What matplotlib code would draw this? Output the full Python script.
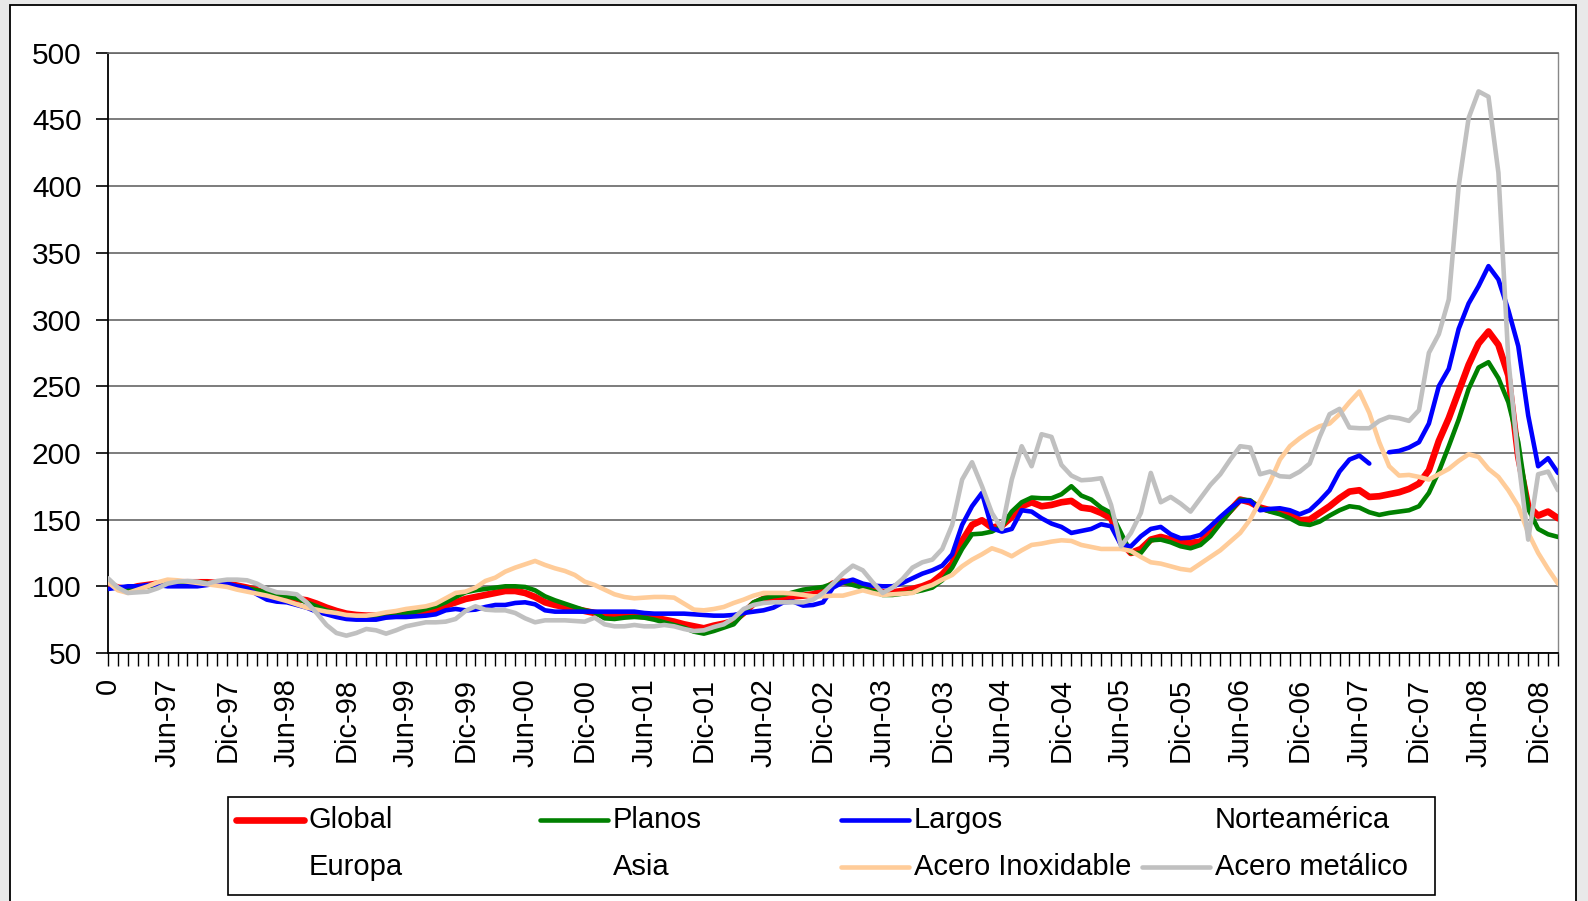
import numpy as np
import matplotlib
matplotlib.use('Agg')
import matplotlib.pyplot as plt
from matplotlib.patches import Rectangle
from matplotlib.lines import Line2D

plt.rcParams['font.family'] = ['Liberation Sans', 'DejaVu Sans']

# ---------------- data (monthly, Dec-96 .. Feb-09) ----------------
global_idx = [
    102, 99, 98, 100, 101, 102, 102.5, 103, 103, 103,
    103, 102.5, 102, 100.5, 99, 97, 94.5, 93, 91.5, 90.5,
    89.5, 87, 84, 81.5, 79.5, 78.5, 78, 78, 78, 78.5,
    79.5, 80, 81, 82.5, 85.5, 88, 90.5, 92, 93.5, 95,
    96.5, 96.5, 95, 92, 88, 86, 84.5, 83, 81.5, 80,
    79, 78, 78, 78.25, 77.5, 76.5, 75, 73.5, 71.5, 70,
    68.5, 70.5, 72, 74, 80, 87, 90.5, 91.5, 92, 92.5,
    93, 94, 97, 102, 103.5, 102.5, 100.5, 98.5, 95.5, 95.5,
    96.5, 98, 100, 103, 109, 117, 134, 146, 149.5, 144,
    145.5, 152, 160, 163, 160, 161, 163, 164, 159, 158,
    155, 151, 133, 125, 128, 135, 137, 135, 133, 132.5,
    133.5, 140, 149, 157, 165, 163, 159, 157, 156, 154,
    149.5, 150, 155, 160, 166, 171, 172, 167, 167.5, 169,
    170.5, 173, 177, 187, 209, 226, 246, 266, 282, 291,
    281, 258, 197, 160, 153, 156, 151]

planos = [
    103, 98, 97, 99, 100, 101, 102, 102.5, 103, 103,
    102.5, 102, 101, 100, 98.5, 97, 95.5, 94, 92.5, 91,
    88, 85, 82, 80, 78, 77, 76, 76, 77, 78,
    79.5, 81, 83, 85, 88, 92, 95.5, 97, 98, 99,
    100, 100, 99.5, 97, 92.5, 89.5, 87, 84.5, 82, 80.5,
    76, 75.5, 76.5, 77, 76.5, 75, 73, 71, 69, 66,
    64.5, 66.5, 69, 71.5, 80, 88, 91, 92.5, 93.5, 95.5,
    97.5, 98.5, 99.5, 102, 103, 101, 99, 96.5, 93.5, 93.5,
    94.5, 95.5, 97, 99, 104.5, 114, 128, 139, 139.5, 141,
    145, 156, 163, 166.5, 166, 166, 169, 175, 168, 165,
    159, 155, 140, 125, 125, 134.5, 135, 133, 130, 128.5,
    131, 137.5, 147, 156, 165, 164.5, 158.5, 156, 154, 151,
    147, 146, 148.5, 153, 157, 160, 159, 155.5, 153.5, 155,
    156, 157, 160, 170, 186, 205, 225, 248, 264, 268,
    256, 238, 208, 158, 143, 139, 137]

largos = [
    98, 99, 100, 100, 101, 101, 100, 100, 100, 100,
    101, 102, 102, 100, 98.5, 94, 90, 88.5, 88, 86,
    84, 81, 79, 77, 75.5, 75, 75, 75, 76.5, 77,
    77, 77.5, 78, 79, 82, 83, 82, 82.5, 84.5, 86,
    86, 87.5, 88, 86.5, 82, 81, 81, 81, 81, 81,
    81, 81, 81, 81, 80, 79.5, 79.5, 79.5, 79.5, 79,
    78.5, 78, 78, 78.5, 80, 81, 82, 84, 88, 88.5,
    85.5, 86, 88, 99, 103, 105, 102, 100.5, 100, 100,
    102.5, 106, 109.5, 112, 115.5, 124, 146, 160, 170, 143.5,
    141, 143, 157, 156, 151, 147, 144.5, 140, 141.5, 143,
    146.5, 145, 131, 130, 137.5, 143, 144.5, 139, 136, 136.5,
    138.5, 145, 152, 158.5, 164, 164, 157, 158, 158.5, 157,
    154, 157, 164, 172, 186, 195, 198, 192, np.nan, 200.5,
    201.5, 204, 208, 222, 250, 263, 293, 312, 325, 340,
    330, 307, 280, 228, 190, 196, 185]

inoxidable = [
    103, 97, 95, 97.5, 100, 103, 105, 104.5, 103.5, 102.5,
    101.5, 100.5, 99.5, 97.5, 96, 94.5, 93, 91, 89, 86.5,
    84, 82.5, 81, 80, 78.5, 78, 78, 79, 80.5, 81.5,
    83, 84, 85, 87, 91, 95, 96, 99, 104, 106.5,
    111, 114, 116.5, 119, 116, 113.5, 111.5, 108.5, 103.5, 101,
    97.5, 94, 92, 91, 91.5, 92, 92, 91.5, 87, 82.5,
    82, 83, 84.5, 87.5, 90, 93, 95, 95, 95, 94.5,
    93.5, 92.5, 92.5, 93, 93, 95, 97, 95, 93.5, 94,
    94.5, 95, 98.5, 101, 105, 108.5, 115, 120, 124, 128.5,
    126, 122.5, 127, 131, 132, 133.5, 134.5, 134, 131, 129.5,
    128, 128, 128, 126.5, 122, 118, 117, 115, 113, 112,
    117, 122, 127, 133.5, 140, 150, 164, 178, 195, 205,
    211, 216, 220, 222, 229, 238, 246, 230, 208, 190,
    183, 183.5, 182, 180, 184, 188, 194, 199, 197, 188,
    182, 172, 160, 140, 125, 113, 102]

metalico = [
    106, 99, 95, 95.5, 96, 98.5, 102, 103.5, 104, 103.5,
    102, 104, 105, 105, 104.5, 102, 98, 95.5, 95, 94,
    88, 80, 71, 65, 63, 65, 68, 67, 64.5, 67,
    70, 71.5, 73, 73, 73.5, 75.5, 81.5, 85, 82.5, 82,
    82, 80, 76, 73, 74.5, 74.5, 74.5, 74, 73.5, 76.5,
    71.5, 70, 70, 71, 70, 70, 71, 70, 68, 66.5,
    67, 69.5, 71.5, 76, 83, 86, 87.5, 88, 88, 88,
    88, 90, 95, 102, 109.5, 115.5, 112, 103, 95, 99,
    105.5, 114, 118, 120, 128, 146, 180, 193, 175, 155,
    143, 180, 205, 190, 214, 212, 191, 183, 179.5, 180,
    181, 161, 130, 140, 155, 185, 163, 167, 162, 156,
    166, 176, 184, 195, 205, 204, 184, 186, 182.5, 182,
    186, 192, 212, 229, 233, 219, 218.5, 218.5, 224, 227,
    226, 224, 232, 275, 289, 315, 400, 451, 471, 467,
    410, 270, 195, 135, 184, 186, 172]

tick_labels = ["0", "Jun-97", "Dic-97", "Jun-98", "Dic-98", "Jun-99", "Dic-99",
               "Jun-00", "Dic-00", "Jun-01", "Dic-01", "Jun-02", "Dic-02",
               "Jun-03", "Dic-03", "Jun-04", "Dic-04", "Jun-05", "Dic-05",
               "Jun-06", "Dic-06", "Jun-07", "Dic-07", "Jun-08", "Dic-08"]

series_names = ["Global", "Planos", "Largos", "Norteamérica",
                "Europa", "Asia", "Acero Inoxidable", "Acero metálico"]

# ---------------- figure ----------------
W, H = 1588, 901
fig = plt.figure(figsize=(W / 100, H / 100), dpi=100, facecolor='#e9e9e9')

fig.patches.append(Rectangle((10 / W, -0.02), (1576 - 10) / W, 1.02 - 5 / H,
                             transform=fig.transFigure, facecolor='white',
                             edgecolor='black', lw=1.3, zorder=-5))

ax = fig.add_axes([108 / W, 1 - 653 / H, (1558 - 108) / W, (653 - 52.7) / H])
ax.set_facecolor('white')

n = len(global_idx)
x = np.arange(n)

styles = {
    "Global": dict(color='#FF0000', lw=4.8),
    "Planos": dict(color='#008000', lw=3.3),
    "Largos": dict(color='#0000FF', lw=3.3),
    "Acero Inoxidable": dict(color='#FFCC99', lw=3.3),
    "Acero metálico": dict(color='#C0C0C0', lw=3.3),
}
data = {
    "Global": global_idx,
    "Planos": planos,
    "Largos": largos,
    "Acero Inoxidable": inoxidable,
    "Acero metálico": metalico,
}
for k, name in enumerate(["Global", "Planos", "Largos", "Acero Inoxidable", "Acero metálico"]):
    ax.plot(x, data[name], solid_joinstyle='round', solid_capstyle='round',
            zorder=3 + k, **styles[name])

ax.set_xlim(0, n - 1)
ax.set_ylim(50, 500)
ax.set_yticks(np.arange(50, 501, 50))
ax.yaxis.grid(True, color='#666666', lw=1.2)
ax.set_axisbelow(True)

ax.set_xticks(x)
labels = [''] * n
for j, lab in enumerate(tick_labels):
    labels[j * 6] = lab
ax.set_xticklabels(labels, rotation=90, ha='center', va='top')

ax.tick_params(axis='y', direction='out', length=9, width=1.2, labelsize=21.5,
               pad=10, colors='black')
ax.tick_params(axis='x', direction='out', length=9, width=1.0, labelsize=21,
               pad=9)

for s in ['left', 'bottom']:
    ax.spines[s].set_color('black')
    ax.spines[s].set_linewidth(1.3)
ax.spines['top'].set_color('#666666')
ax.spines['top'].set_linewidth(1.2)
ax.spines['right'].set_color('#888888')
ax.spines['right'].set_linewidth(1.0)

# ---------------- legend (Excel-like fixed grid) ----------------
def fx(px):
    return px / W

def fy(py):
    return 1 - py / H

lx0, lx1, ly0, ly1 = 228, 1435, 797, 895
fig.patches.append(Rectangle((fx(lx0), fy(ly1)), fx(lx1) - fx(lx0), fy(ly0) - fy(ly1),
                             transform=fig.transFigure, facecolor='white',
                             edgecolor='black', lw=1.2, zorder=1))
col_x = [236, 540, 841, 1142]
row_y = [820, 867]
for k, name in enumerate(series_names):
    r, c = divmod(k, 4)
    hx = col_x[c]
    hy = row_y[r]
    if name in styles:
        st = styles[name]
        fig.lines.append(Line2D([fx(hx), fx(hx + 68)], [fy(hy), fy(hy)],
                                transform=fig.transFigure, color=st['color'],
                                lw=st['lw'], solid_capstyle='round', zorder=2))
    fig.text(fx(hx + 73), fy(hy), name, fontsize=21, va='center', ha='left',
             zorder=3)

fig.savefig('out.png', dpi=100, facecolor=fig.get_facecolor())
